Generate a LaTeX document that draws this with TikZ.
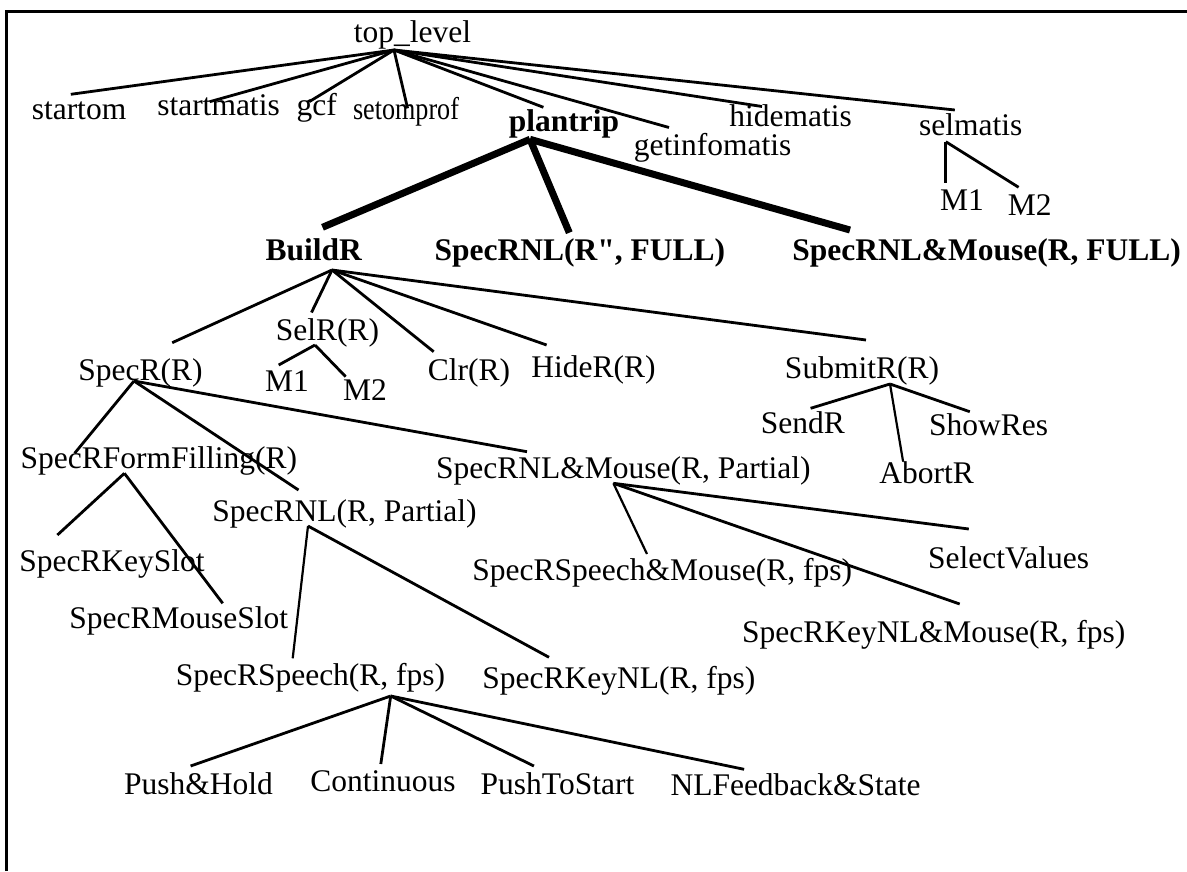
\documentclass[tikz,border=0pt]{standalone}
\usepackage{fontspec}
\setmainfont{Liberation Serif}[Ligatures=TeXOff]
\begin{document}
\begin{tikzpicture}[x=1pt,y=-1pt,
  lab/.style={inner sep=0pt, anchor=base, font=\fontsize{31.5}{31.5}\selectfont},
  blab/.style={inner sep=0pt, anchor=base, font=\fontsize{31.5}{31.5}\selectfont\bfseries},
  edge/.style={line width=2.8pt},
  thinedge/.style={line width=2.2pt},
  heavy/.style={line width=7pt},
  frame/.style={line width=3pt}]
\useasboundingbox (0,0) rectangle (1187,871);
% frame
\coordinate (f1) at (6,871);
\coordinate (f2) at (6,11);
\coordinate (f3) at (1187,11);
\draw[frame] (f1) -- (f2) -- (f3);

% labels
\node[lab] (top) at (412.5,42) {top\_level};
\node[lab] (startom) at (79,119) {startom};
\node[lab] (startmatis) at (218.5,115) {startmatis};
\node[lab] (gcf) at (316.7,115) {gcf};
\node[lab] (setomprof) at (406,119) {\resizebox{106pt}{\height}{setomprof}};
\node[blab] (plantrip) at (564,131.7) {plantrip};
\node[lab] (getinfomatis) at (712.5,155) {getinfomatis};
\node[lab] (hidematis) at (790.5,126) {hidematis};
\node[lab] (selmatis) at (970.7,135) {selmatis};
\node[lab] (m1a) at (962,210) {M1};
\node[lab] (m2a) at (1029.7,215) {M2};

\node[blab] (buildr) at (313.8,260) {BuildR};
\node[blab] (specrnlfull) at (579.8,260) {SpecRNL(R", FULL)};
\node[blab] (specrnlmfull) at (986.7,260) {SpecRNL\&Mouse(R, FULL)};

\node[lab] (specr) at (140.6,380) {SpecR(R)};
\node[lab] (selr) at (327.5,340) {SelR(R)};
\node[lab] (m1b) at (287,391.7) {M1};
\node[lab] (m2b) at (365,400) {M2};
\node[lab] (clr) at (469,380) {Clr(R)};
\node[lab] (hider) at (593.5,377) {HideR(R)};
\node[lab] (submitr) at (862,378) {SubmitR(R)};
\node[lab] (sendr) at (802.8,433.3) {SendR};
\node[lab] (showres) at (988.6,435) {ShowRes};
\node[lab] (abortr) at (926.6,483.3) {AbortR};

\node[lab] (formfill) at (158.8,468.3) {SpecRFormFilling(R)};
\node[lab] (nlpartial) at (344.5,521.7) {SpecRNL(R, Partial)};
\node[lab] (nlmpartial) at (623.4,478.3) {SpecRNL\&Mouse(R, Partial)};
\node[lab] (keyslot) at (112,571.7) {SpecRKeySlot};
\node[lab] (mouseslot) at (178.8,628.3) {SpecRMouseSlot};
\node[lab] (selectvalues) at (1008.7,568.3) {SelectValues};
\node[lab] (speechmouse) at (662.3,580) {SpecRSpeech\&Mouse(R, fps)};
\node[lab] (keynlmouse) at (933.7,642.7) {SpecRKeyNL\&Mouse(R, fps)};
\node[lab] (speech) at (310.5,685) {SpecRSpeech(R, fps)};
\node[lab] (keynl) at (618.9,688.3) {SpecRKeyNL(R, fps)};
\node[lab] (pushhold) at (198.4,794) {Push\&Hold};
\node[lab] (continuous) at (383.1,791.7) {Continuous};
\node[lab] (pushstart) at (557.5,794) {PushToStart};
\node[lab] (nlfeedback) at (795.6,795) {NLFeedback\&State};

% hubs and ends
\coordinate (h-top) at (394,50);
\coordinate (e-startom) at (70.8,94.3);
\coordinate (e-startmatis) at (209.7,101.7);
\coordinate (e-gcf) at (309.2,101.7);
\coordinate (e-setomprof) at (407.6,108.3);
\coordinate (e-plantrip) at (543.4,107.3);
\coordinate (e-getinfomatis) at (669,127.5);
\coordinate (e-hidematis) at (762,106.5);
\coordinate (e-selmatis) at (954.8,110);

\coordinate (h-plantrip) at (530,139.3);
\coordinate (e-buildr) at (322.5,227.3);
\coordinate (e-specrnlfull) at (569.3,232.7);
\coordinate (e-specrnlmfull) at (850,230);

\coordinate (h-selmatis) at (945.8,141.7);
\coordinate (e-m1a) at (945.8,182.7);
\coordinate (e-m2a) at (1018.6,187.3);

\coordinate (h-buildr) at (332,270);
\coordinate (e-specr) at (172.2,342.7);
\coordinate (e-selr) at (311.5,312.5);
\coordinate (e-clr) at (433.7,351.7);
\coordinate (e-hider) at (546.6,345);
\coordinate (e-submitr) at (866,340);

\coordinate (h-selr) at (315,345);
\coordinate (e-m1b) at (278.7,365);
\coordinate (e-m2b) at (345.7,376.7);

\coordinate (h-specr) at (134,381);
\coordinate (e-formfill) at (74.6,453.3);
\coordinate (e-nlpartial) at (298.5,490);
\coordinate (e-nlmpartial) at (527,451.7);

\coordinate (h-formfill) at (124.4,473.3);
\coordinate (e-keyslot) at (57.4,535);
\coordinate (e-mouseslot) at (222.7,603.3);

\coordinate (h-nlpartial) at (308,526);
\coordinate (e-speech) at (292.7,658.3);
\coordinate (e-keynl) at (549,657.3);

\coordinate (h-nlmpartial) at (613.4,483.3);
\coordinate (e-speechmouse) at (647,554);
\coordinate (e-keynlmouse) at (959.7,604);
\coordinate (e-selectvalues) at (968.8,529);

\coordinate (h-submitr) at (890,384);
\coordinate (e-sendr) at (810.6,408.3);
\coordinate (e-abortr) at (903,461);
\coordinate (e-showres) at (969.8,411.7);

\coordinate (h-speech) at (390.7,696);
\coordinate (e-pushhold) at (190.6,766);
\coordinate (e-continuous) at (380.8,764);
\coordinate (e-pushstart) at (533.9,766);
\coordinate (e-nlfeedback) at (744.1,769.3);

% edges
\foreach \c in {startom,startmatis,gcf,setomprof,plantrip,getinfomatis,hidematis,selmatis}
  \draw[edge] (h-top) -- (e-\c);
\foreach \c in {buildr,specrnlfull,specrnlmfull}
  \draw[heavy] (h-plantrip) -- (e-\c);
\foreach \c in {m1a,m2a}
  \draw[edge] (h-selmatis) -- (e-\c);
\foreach \c in {specr,selr,clr,hider,submitr}
  \draw[edge] (h-buildr) -- (e-\c);
\foreach \c in {m1b,m2b}
  \draw[edge] (h-selr) -- (e-\c);
\foreach \c in {formfill,nlpartial,nlmpartial}
  \draw[edge] (h-specr) -- (e-\c);
\foreach \c in {keyslot,mouseslot}
  \draw[edge] (h-formfill) -- (e-\c);
\draw[thinedge] (h-nlpartial) -- (e-speech);
\draw[edge] (h-nlpartial) -- (e-keynl);
\draw[thinedge] (h-nlmpartial) -- (e-speechmouse);
\draw[edge] (h-nlmpartial) -- (e-keynlmouse);
\draw[edge] (h-nlmpartial) -- (e-selectvalues);
\draw[edge] (h-submitr) -- (e-sendr);
\draw[thinedge] (h-submitr) -- (e-abortr);
\draw[edge] (h-submitr) -- (e-showres);
\foreach \c in {pushhold,continuous,pushstart,nlfeedback}
  \draw[edge] (h-speech) -- (e-\c);
\end{tikzpicture}
\end{document}
